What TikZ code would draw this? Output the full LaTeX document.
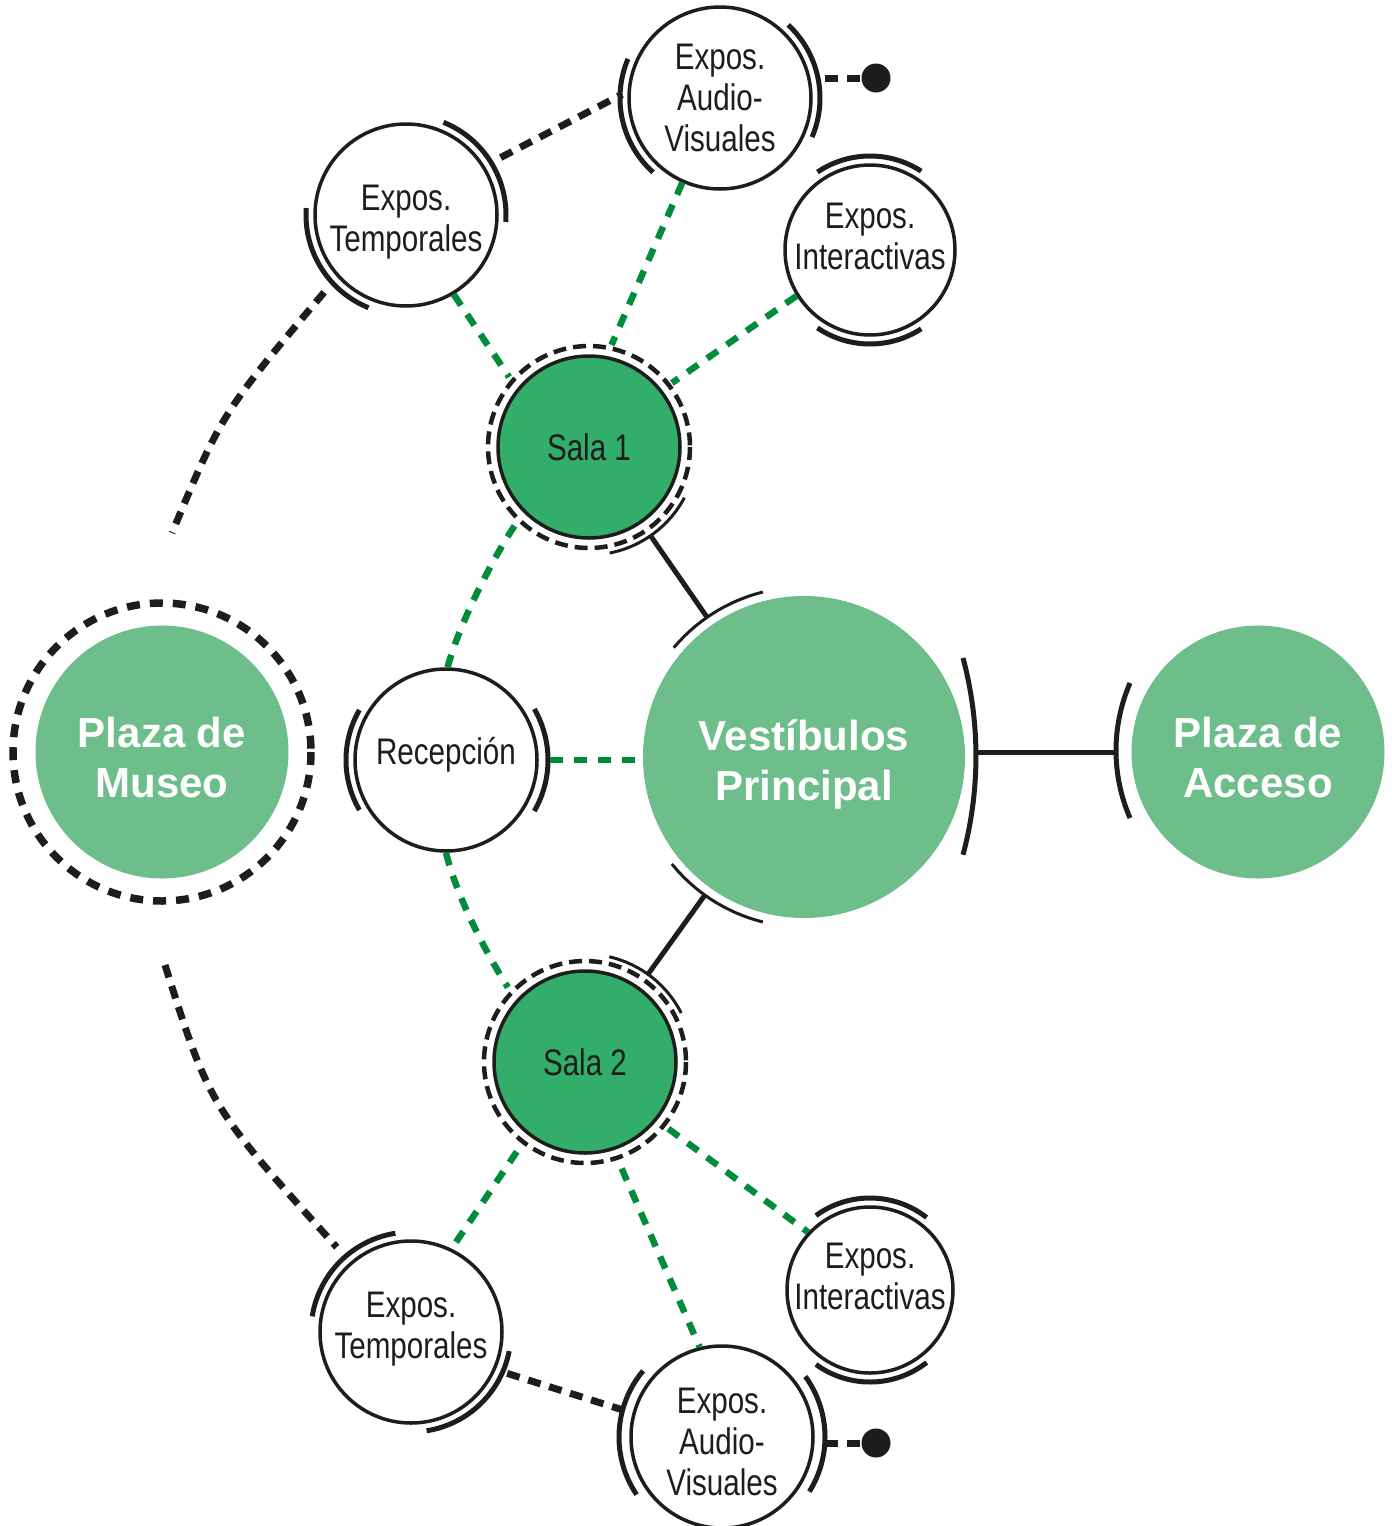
\documentclass[tikz,border=0pt]{standalone}
\usepackage{fontspec}
\setmainfont{Liberation Sans}
\newfontfamily\narrowfont[FakeStretch=0.80]{Liberation Sans}
\definecolor{lgreen}{HTML}{6EBE8C}
\definecolor{dgreen}{HTML}{33AD6A}
\definecolor{dashgreen}{HTML}{008C3A}
\definecolor{ink}{HTML}{1D1D1B}
\tikzset{
  plaza/.style={circle, fill=lgreen, inner sep=0pt, minimum size=253pt, text=white,
    font=\fontsize{42}{50}\selectfont\bfseries, align=center},
  expo/.style={circle, draw=ink, line width=3.5pt, fill=white, inner sep=-12pt,
    minimum size=182pt, text=ink, font={\narrowfont\fontsize{37}{41}\selectfont}, align=center},
  sala/.style={expo, fill=dgreen},
  dotnode/.style={circle, fill=ink, inner sep=0pt, minimum size=29pt},
  ringline/.style={draw=ink, line width=4.5pt, dash pattern=on 13pt off 7pt},
  bigring/.style={draw=ink, line width=7.5pt, dash pattern=on 13pt off 10pt},
  halo/.style={draw=ink, line width=5pt},
  tarc/.style={draw=ink, line width=3pt},
  link/.style={draw=ink, line width=5pt},
  gdash/.style={draw=dashgreen, line width=6.5pt, dash pattern=on 13pt off 11pt},
  kdash/.style={draw=ink, line width=7pt, dash pattern=on 13pt off 9pt},
}
% arc around a node: node, visual start angle, visual end angle, radius, style
\newcommand\ringarc[5]{\draw[#5] (#1.center) ++({-(#2)}:#4) arc[start angle={-(#2)}, end angle={-(#3)}, radius=#4];}
% struts to move node text: \tall{h} raises the top, \deep{d} lowers the bottom
\newcommand\tall[1]{\rule{0pt}{#1}}
\newcommand\deep[1]{\rule[-#1]{0pt}{0pt}}
\begin{document}
\begin{tikzpicture}[x=1pt,y=1pt,yscale=-1]
\useasboundingbox (0,0) rectangle (1392,1526);

% nodes
\node[plaza] (museo) at (162,752) {\tall{42pt}Plaza de\\Museo};
\node[plaza] (acceso) at (1258,752) {\tall{42pt}Plaza de\\Acceso};
\node[plaza, minimum size=322pt] (vest) at (804,757) {\tall{46pt}Vestíbulos\\Principal};
\node[expo] (recep) at (446,760) {Recepción\deep{18pt}};
\node[sala] (sala1) at (589,447) {Sala 1};
\node[sala] (sala2) at (585,1062) {Sala 2};
\node[expo] (temp1) at (406,215) {\tall{40pt}Expos.\\Temporales};
\node[expo] (audio1) at (720,98) {Expos.\\Audio-\\Visuales};
\node[expo, minimum size=170pt] (inter1) at (870,250) {Expos.\\Interactivas\deep{28pt}};
\node[expo] (temp2) at (411,1332) {Expos.\\Temporales\deep{14pt}};
\node[expo] (audio2) at (722,1437) {\tall{35pt}Expos.\\Audio-\\Visuales};
\node[expo, minimum size=166pt] (inter2) at (870,1290) {Expos.\\Interactivas\deep{28pt}};
\node[dotnode] (dot1) at (876,78) {};
\node[dotnode] (dot2) at (876,1443) {};
\coordinate (mtop) at (172,533);
\coordinate (mbot) at (165,965);
\coordinate (a1e) at ([xshift=12pt]audio1.east);
\coordinate (a2e) at ([xshift=10pt]audio2.east);
\coordinate (ve) at ([xshift=10pt]vest.east);

% rings
\draw[bigring] (museo.center) circle[radius=149pt];
\draw[ringline] (sala1.center) circle[radius=101pt];
\draw[ringline] (sala2.center) circle[radius=101pt];

% halo arcs
\ringarc{temp1}{68}{-4}{100pt}{halo}
\ringarc{temp1}{176}{248}{100pt}{halo}
\ringarc{audio1}{157}{228}{100pt}{halo}
\ringarc{audio1}{47}{-23}{100pt}{halo}
\ringarc{inter1}{57}{124}{94pt}{halo}
\ringarc{inter1}{236}{303}{94pt}{halo}
\ringarc{recep}{150}{210}{100pt}{halo}
\ringarc{recep}{-30}{30}{102pt}{halo}
\ringarc{temp2}{99}{171}{100pt}{halo}
\ringarc{temp2}{-11}{-81}{100pt}{halo}
\ringarc{audio2}{140}{214}{103pt}{halo}
\ringarc{audio2}{36}{-32}{103pt}{halo}
\ringarc{inter2}{52}{126}{92pt}{halo}
\ringarc{inter2}{234}{308}{92pt}{halo}
\ringarc{sala1}{-79}{-28}{108pt}{tarc}
\ringarc{sala2}{27}{77}{108pt}{tarc}
\ringarc{vest}{104}{140}{170pt}{tarc}
\ringarc{vest}{219}{256}{170pt}{tarc}
\draw[link] (vest.center) ++(159,-99) arc[start angle=-15, end angle=15, radius=380pt];
\draw[halo] (acceso.center) ++(-128,-69) arc[start angle=-156.6, end angle=-203.4, radius=170pt];

% solid links
\draw[link, shorten <=15pt, shorten >=9pt] (sala1) -- (vest);
\draw[link, shorten <=15pt, shorten >=9pt] (sala2) -- (vest);
\draw[link] (ve |- acceso.west) -- ([xshift=-14pt]acceso.west);

% green dashed links
\draw[gdash, shorten >=14pt] (temp1.-59) -- (sala1.141);
\draw[gdash, shorten >=12pt] (audio1.-114) -- (sala1.79);
\draw[gdash, shorten >=12pt] (inter1.-148) -- (sala1.38);
\draw[gdash, shorten <=16pt] (sala1.-135) .. controls +(-30,45) and +(12,-45) .. (recep.89);
\draw[gdash, shorten >=15pt] (recep.-90) .. controls +(11,45) and +(-29,-45) .. (sala2.138);
\draw[gdash] ([xshift=11pt]recep.east) -- (vest.west |- recep.east);
\draw[gdash, shorten <=20pt] (sala2.-128.5) -- (temp2.64);
\draw[gdash, shorten <=20pt] (sala2.-72) -- (audio2.104);
\draw[gdash, shorten <=14pt] (sala2.-39.7) -- (inter2.137);

% black dashed links
\draw[kdash, shorten <=18pt, shorten >=6pt] (temp1.32.5) -- (audio1.176);
\draw[kdash] (a1e |- dot1.center) -- (dot1);
\draw[kdash, shorten <=20pt] (temp1.-138) .. controls (222,413) .. (mtop);
\draw[kdash, shorten >=20pt] (mbot) .. controls (210,1107) .. (temp2.131);
\draw[kdash, shorten <=12pt, shorten >=8pt] (temp2.-24.6) -- (audio2.165.5);
\draw[kdash] (a2e |- dot2.center) -- (dot2);
\end{tikzpicture}
\end{document}
